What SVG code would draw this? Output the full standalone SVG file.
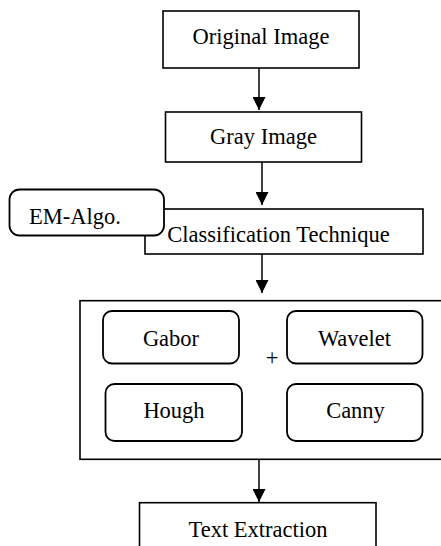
<svg xmlns="http://www.w3.org/2000/svg" width="441" height="546" viewBox="0 0 441 546">
  <style>
    .box { fill: #ffffff; stroke: #000000; stroke-width: 1.6; }
    .rbox { fill: #ffffff; stroke: #000000; stroke-width: 1.8; }
    .lbl { font-family: "Liberation Serif", "Times New Roman", serif; font-size: 22.5px; fill: #000000; text-anchor: middle; }
    .edge { stroke: #000000; stroke-width: 1.5; fill: none; }
  </style>
  <defs>
    <marker id="arrow" viewBox="0 0 13 13" refX="13" refY="6.5" markerWidth="13" markerHeight="13" markerUnits="userSpaceOnUse" orient="auto">
      <path d="M0,0 L13,6.5 L0,13 Z" fill="#000000"/>
    </marker>
  </defs>
  <rect width="441" height="546" fill="#ffffff"/>

  <!-- flow arrows -->
  <g id="connectors">
    <line class="edge" x1="259" y1="68" x2="259" y2="110" marker-end="url(#arrow)"/>
    <line class="edge" x1="262" y1="162" x2="262" y2="205" marker-end="url(#arrow)"/>
    <line class="edge" x1="262" y1="254" x2="262" y2="293" marker-end="url(#arrow)"/>
    <line class="edge" x1="259" y1="459" x2="259" y2="502" marker-end="url(#arrow)"/>
  </g>

  <g id="original-image">
    <rect class="box" x="163" y="11" width="196" height="57"/>
    <text class="lbl" x="261" y="43.5">Original Image</text>
  </g>

  <g id="gray-image">
    <rect class="box" x="165.5" y="112" width="196" height="50"/>
    <text class="lbl" x="263.5" y="143.5">Gray Image</text>
  </g>

  <g id="classification-technique">
    <rect class="box" x="145" y="209" width="278" height="45"/>
    <text class="lbl" x="278.5" y="242">Classification Technique</text>
  </g>

  <g id="em-algo">
    <rect class="rbox" x="9.5" y="189.5" width="154.5" height="46" rx="10" ry="10"/>
    <text class="lbl" x="75" y="223.5">EM-Algo.</text>
  </g>

  <g id="feature-methods">
    <rect class="box" x="80" y="300.7" width="370" height="158.6"/>
    <text class="lbl" x="272" y="365">+</text>
  </g>

  <g id="gabor">
    <rect class="rbox" x="103" y="311" width="136" height="52.5" rx="9" ry="9"/>
    <text class="lbl" x="171" y="345.5">Gabor</text>
  </g>

  <g id="wavelet">
    <rect class="rbox" x="287" y="311" width="135.5" height="52.5" rx="9" ry="9"/>
    <text class="lbl" x="354.5" y="345.5">Wavelet</text>
  </g>

  <g id="hough">
    <rect class="rbox" x="105.5" y="384" width="136.5" height="57" rx="9" ry="9"/>
    <text class="lbl" x="174" y="418">Hough</text>
  </g>

  <g id="canny">
    <rect class="rbox" x="287" y="384" width="135.5" height="57" rx="9" ry="9"/>
    <text class="lbl" x="355.5" y="418">Canny</text>
  </g>

  <g id="text-extraction">
    <rect class="box" x="139.5" y="502.7" width="236.5" height="60"/>
    <text class="lbl" x="258" y="536.5">Text Extraction</text>
  </g>
</svg>
